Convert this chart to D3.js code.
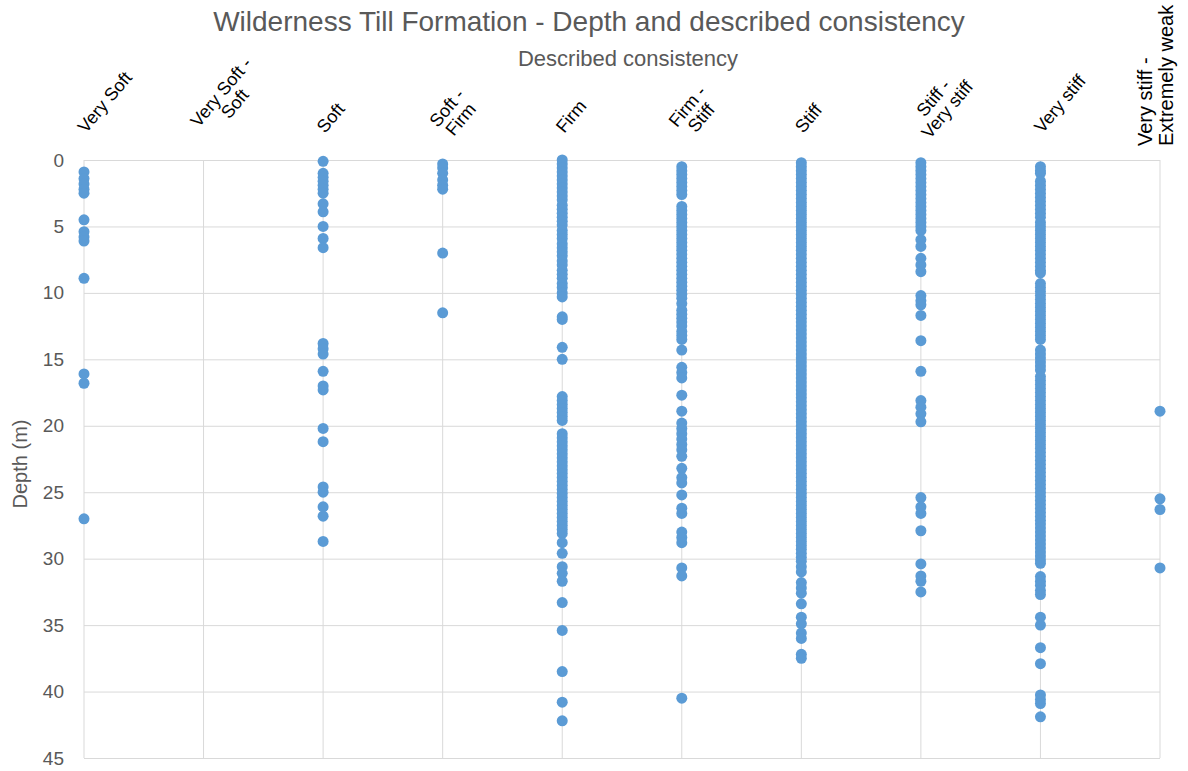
<!DOCTYPE html>
<html>
<head>
<meta charset="utf-8">
<script src="https://cdn.jsdelivr.net/npm/d3@7"></script>
<style>
  html, body { margin: 0; padding: 0; background: #ffffff; }
  svg { display: block; font-family: "Liberation Sans", Arial, sans-serif; }
</style>
</head>
<body>
<svg id="chart" width="1188" height="771"></svg>
<script>
// ---------------- DATA ----------------
const categories = [
  "Very Soft", "Very Soft - Soft", "Soft", "Soft - Firm", "Firm",
  "Firm - Stiff", "Stiff", "Stiff - Very stiff", "Very stiff", "Very stiff - Extremely weak"
];
const categoryLabelLines = [
  ["Very Soft"], ["Very Soft -", "Soft"], ["Soft"], ["Soft -", "Firm"], ["Firm"],
  ["Firm -", "Stiff"], ["Stiff"], ["Stiff -", "Very stiff"], ["Very stiff"], ["Very stiff -", "Extremely weak"]
];
const yTicks = [0, 5, 10, 15, 20, 25, 30, 35, 40, 45];

const depthVerySoft = [0.9, 1.4, 1.8, 2.2, 2.5, 4.5, 5.4, 5.8, 6.1, 8.9, 16.1, 16.8, 27.0];
const depthVerySoftSoft = [];
const depthSoft = [0.1, 1.0, 1.3, 1.6, 1.9, 2.2, 2.5, 3.3, 3.9, 5.0, 5.9, 6.6, 13.8, 14.2, 14.6,
  15.9, 17.0, 17.3, 20.2, 21.2, 24.6, 25.0, 26.1, 26.8, 28.7];
const depthSoftFirm = [0.3, 0.6, 1.0, 1.5, 1.9, 2.2, 7.0, 11.5];
const depthFirm = [0.0, 0.3, 0.6, 0.9, 1.2, 1.5, 1.8, 2.1, 2.4, 2.7, 3.0, 3.4, 3.7, 4.0, 4.3, 4.6,
  4.9, 5.3, 5.6, 5.9, 6.3, 6.6, 6.9, 7.2, 7.6, 7.9, 8.3, 8.6, 8.9, 9.3, 9.6, 10.0, 10.3, 11.8, 12.0,
  14.1, 15.0, 17.8, 18.1, 18.4, 18.7, 19.0, 19.3, 19.6, 20.6, 20.9, 21.2, 21.5, 21.8, 22.1, 22.4,
  22.7, 23.0, 23.3, 23.6, 23.9, 24.2, 24.5, 24.8, 25.1, 25.4, 25.7, 26.0, 26.3, 26.6, 26.9, 27.2,
  27.5, 27.8, 28.1, 28.8, 29.6, 30.6, 31.1, 31.7, 33.3, 35.4, 38.5, 40.8, 42.2];
const depthFirmStiff = [0.5, 0.8, 1.1, 1.4, 1.7, 2.0, 2.3, 2.6, 3.5, 3.8, 4.1, 4.4, 4.7, 5.0, 5.3,
  5.6, 5.9, 6.2, 6.5, 6.8, 7.1, 7.4, 7.7, 8.0, 8.3, 8.6, 8.9, 9.2, 9.5, 9.8, 10.1, 10.4, 10.8, 11.3,
  11.6, 11.9, 12.2, 12.5, 12.9, 13.2, 13.5, 14.3, 15.6, 16.0, 16.4, 17.7, 18.9, 19.8, 20.2, 20.6,
  21.0, 21.4, 21.8, 22.3, 23.2, 23.9, 24.3, 25.2, 26.2, 26.6, 28.0, 28.4, 28.8, 30.7, 31.3, 40.5];
const depthStiff = [0.2, 0.5, 0.8, 1.1, 1.4, 1.7, 2.0, 2.3, 2.6, 2.9, 3.2, 3.5, 3.8, 4.1, 4.4, 4.7,
  5.0, 5.3, 5.6, 5.9, 6.2, 6.5, 6.8, 7.1, 7.4, 7.7, 8.0, 8.3, 8.6, 8.9, 9.2, 9.5, 9.8, 10.1, 10.4,
  10.7, 11.0, 11.3, 11.6, 11.9, 12.2, 12.5, 12.8, 13.1, 13.4, 13.7, 14.0, 14.3, 14.6, 14.9, 15.2,
  15.5, 15.8, 16.1, 16.4, 16.7, 17.0, 17.3, 17.6, 17.9, 18.2, 18.5, 18.8, 19.1, 19.4, 19.7, 20.0,
  20.3, 20.6, 20.9, 21.2, 21.5, 21.8, 22.1, 22.4, 22.7, 23.0, 23.3, 23.6, 23.9, 24.2, 24.5, 24.8,
  25.1, 25.4, 25.7, 26.0, 26.3, 26.6, 26.9, 27.2, 27.5, 27.8, 28.1, 28.4, 28.7, 29.0, 29.3, 29.6,
  29.9, 30.2, 30.6, 31.0, 31.8, 32.2, 32.6, 33.4, 34.4, 34.9, 35.6, 36.0, 37.2, 37.5];
const depthStiffVeryStiff = [0.2, 0.5, 0.8, 1.1, 1.4, 1.7, 2.0, 2.3, 2.6, 2.9, 3.2, 3.5, 3.8, 4.1,
  4.4, 4.7, 5.0, 5.3, 6.0, 6.5, 7.4, 7.9, 8.4, 10.2, 10.6, 10.9, 11.7, 13.6, 15.9, 18.1, 18.6, 19.1,
  19.7, 25.4, 26.1, 26.6, 27.9, 30.4, 31.3, 31.7, 32.5];
const depthVeryStiff = [0.5, 0.8, 1.0, 1.6, 1.9, 2.2, 2.5, 2.8, 3.1, 3.4, 3.7, 4.0, 4.3, 4.7, 5.0,
  5.3, 5.6, 5.9, 6.2, 6.5, 6.8, 7.1, 7.4, 7.7, 8.0, 8.3, 8.5, 9.3, 9.6, 9.9, 10.2, 10.5, 10.8, 11.1,
  11.4, 11.7, 12.0, 12.3, 12.6, 12.9, 13.2, 13.5, 14.3, 14.6, 14.9, 15.2, 15.5, 15.8, 16.3, 16.6,
  16.9, 17.2, 17.5, 17.8, 18.1, 18.4, 18.7, 19.0, 19.3, 19.6, 19.9, 20.2, 20.5, 20.8, 21.1, 21.4,
  21.7, 22.0, 22.3, 22.6, 22.9, 23.2, 23.5, 23.8, 24.1, 24.4, 24.7, 25.0, 25.3, 25.6, 25.9, 26.2,
  26.5, 26.8, 27.1, 27.4, 27.7, 28.0, 28.3, 28.6, 28.9, 29.2, 29.5, 29.8, 30.1, 30.35, 31.35, 31.7,
  32.0, 32.4, 32.7, 34.4, 35.0, 36.7, 37.9, 40.25, 40.6, 40.9, 41.9];
const depthVeryStiffExtWeak = [18.9, 25.5, 26.3, 30.7];

const seriesDepths = [depthVerySoft, depthVerySoftSoft, depthSoft, depthSoftFirm, depthFirm,
  depthFirmStiff, depthStiff, depthStiffVeryStiff, depthVeryStiff, depthVeryStiffExtWeak];

const titleText = "Wilderness Till Formation - Depth and described consistency";
const xAxisTitle = "Described consistency";
const yAxisTitle = "Depth (m)";

// ---------------- LAYOUT ----------------
const svg = d3.select("#chart");
const plotLeft = 84, plotRight = 1160, plotTop = 160, plotBottom = 758;
const x = d3.scaleLinear().domain([1, 10]).range([plotLeft, plotRight]);
const y = d3.scaleLinear().domain([0, 45]).range([plotTop, plotBottom]);

const gridColor = "#d9d9d9";
const textGray = "#595959";
const dotColor = "#5b9bd5";

// horizontal gridlines + y tick labels via axis
const yAxis = d3.axisLeft(y).tickValues(yTicks).tickSize(-(plotRight - plotLeft)).tickPadding(20);
const gy = svg.append("g").attr("transform", `translate(${plotLeft},0)`).call(yAxis);
gy.select(".domain").remove();
gy.selectAll(".tick line").attr("stroke", gridColor).attr("stroke-width", 1);
gy.selectAll(".tick text").attr("fill", textGray).attr("font-size", 19)
  .attr("font-family", "Liberation Sans, Arial, sans-serif");

// vertical gridlines (one per category)
const catIdx = d3.range(1, categories.length + 1);
svg.append("g").selectAll("line").data(catIdx).join("line")
  .attr("x1", d => x(d)).attr("x2", d => x(d))
  .attr("y1", y(0)).attr("y2", y(45))
  .attr("stroke", gridColor).attr("stroke-width", 1);

// points
const points = [];
seriesDepths.forEach((arr, i) => arr.forEach(d => points.push({ c: i + 1, d })));
svg.append("g").selectAll("circle").data(points).join("circle")
  .attr("cx", p => x(p.c)).attr("cy", p => y(p.d)).attr("r", 5.5)
  .attr("fill", dotColor);

// category labels
const lineH = 18;
categoryLabelLines.forEach((lines, i) => {
  const cx = x(i + 1);
  if (i === categories.length - 1) {
    const g = svg.append("g").attr("transform", `translate(${cx - 8},146) rotate(-90)`);
    lines.forEach((ln, j) => {
      g.append("text").attr("x", 0).attr("y", j * 21)
        .attr("text-anchor", "start").attr("font-size", 20).attr("fill", "#000").text(ln);
    });
    return;
  }
  const g = svg.append("g").attr("transform", `translate(${cx + 2},134) rotate(-50)`);
  const texts = lines.map((ln, j) => g.append("text")
    .attr("y", (j - (lines.length - 1) / 2) * lineH)
    .attr("font-size", 18).attr("fill", "#000").text(ln));
  const W = d3.max(texts, t => t.node().getComputedTextLength());
  texts.forEach(t => t.attr("x", W / 2).attr("text-anchor", "middle"));
});

// titles
svg.append("text").attr("x", 589).attr("y", 31).attr("text-anchor", "middle")
  .attr("font-size", 28).attr("fill", textGray).text(titleText);
svg.append("text").attr("x", 628).attr("y", 66).attr("text-anchor", "middle")
  .attr("font-size", 22).attr("fill", textGray).text(xAxisTitle);
svg.append("text").attr("transform", `translate(27,464) rotate(-90)`).attr("text-anchor", "middle")
  .attr("font-size", 20).attr("fill", textGray).text(yAxisTitle);
</script>
</body>
</html>
